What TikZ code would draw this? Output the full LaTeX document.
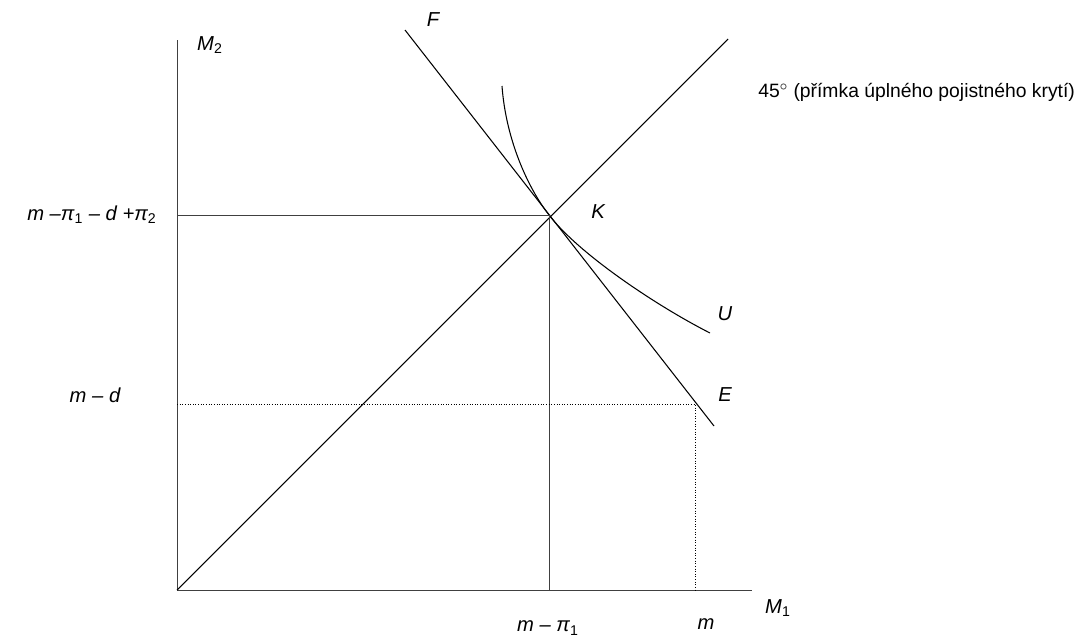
\documentclass[tikz,border=0pt]{standalone}
\usepackage{fontspec}
\setmainfont{Liberation Sans}
\usetikzlibrary{calc}

\begin{document}
\begin{tikzpicture}[x=0.02cm, y=-0.02cm, line width=0.6pt,
    popis/.style={font=\fontsize{11.5}{13}\selectfont\itshape, inner sep=1pt},
    osa/.style={draw=black!75, line width=0.55pt},
    tecky/.style={densely dotted, line width=0.5pt}]
  \useasboundingbox (0,0) rectangle (1076,640);
  % osy
  \coordinate (O) at (177,590);
  \coordinate (Ytop) at (177,40);
  \coordinate (Xend) at (752,590);
  \draw[osa] (Ytop) -- (O) -- (Xend);
  \node[popis] (m2) at (210,45) {M\textsubscript{\upshape 2}};
  \node[popis] (m1) at (778,608) {M\textsubscript{\upshape 1}};
  % bod K, primka 45 stupnu
  \coordinate (K) at (549,215);
  \coordinate (P45) at (728,39);
  \draw (O) -- (P45);
  \node[popis, anchor=west, font=\fontsize{11}{13}\selectfont] (t45) at (756,92)
    {45$^{\circ}$ (přímka úplného pojistného krytí)};
  % rozpoctova primka F--E
  \coordinate (Fs) at (405,30);
  \coordinate (Ee) at (714,426);
  \draw (Fs) -- (Ee);
  \node[popis] (f) at (433,20) {F};
  \node[popis] (e) at (725,395) {E};
  % indiferencni krivka U
  \coordinate (Us) at (502,86);
  \coordinate (Ue) at (710,333);
  \draw (Us) .. controls (506,140) and (528,188) .. (K)
             .. controls (578,253) and (655,305) .. (Ue);
  \node[popis] (u) at (725,314) {U};
  \node[popis] (k) at (598,212) {K};
  % prumety bodu K
  \coordinate (Ky) at (177,215);
  \coordinate (Kx) at (549,590);
  \draw[osa] (Ky) -- (K) -- (Kx);
  \node[popis] (ky) at (92,215) {m –\textit{π}\textsubscript{\upshape 1} – d +\textit{π}\textsubscript{\upshape 2}};
  \node[popis] (kx) at (548,628) {m – \textit{π}\textsubscript{\upshape 1}};
  % bod E (m, m-d)
  \coordinate (Ey) at (177,404);
  \coordinate (Ec) at (695,404);
  \coordinate (Ex) at (695,590);
  \draw[tecky] (Ey) -- (Ec) -- (Ex);
  \node[popis] (md) at (95,395) {m – d};
  \node[popis] (m) at (706,624) {m};
\end{tikzpicture}
\end{document}
